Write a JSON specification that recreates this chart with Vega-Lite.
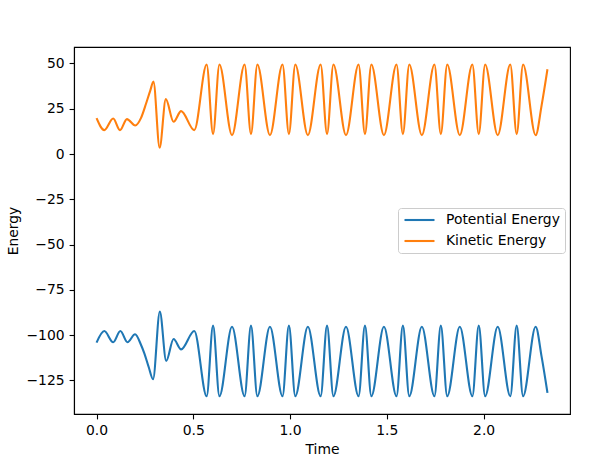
{
  "$schema": "https://vega.github.io/schema/vega-lite/v6.json",
  "width": 496,
  "height": 367,
  "autosize": {"type": "none"},
  "padding": {"left": 74, "top": 47, "right": 34, "bottom": 47},
  "background": "white",
  "config": {
    "font": "DejaVu Sans",
    "view": {"stroke": "black", "strokeWidth": 1.1},
    "axis": {
      "grid": false,
      "domainColor": "black",
      "domainWidth": 1.1,
      "tickColor": "black",
      "tickWidth": 1.1,
      "tickSize": 4.9,
      "labelFont": "DejaVu Sans",
      "labelFontSize": 13.9,
      "labelColor": "black",
      "labelPadding": 5,
      "titleFont": "DejaVu Sans",
      "titleFontSize": 13.9,
      "titleFontWeight": "normal",
      "titleColor": "black",
      "titlePadding": 5
    }
  },
  "data": {
    "values": [
      {"Time": 0.000, "Energy": -104.1, "Series": "Potential Energy"},
      {"Time": 0.040, "Energy": -97.7, "Series": "Potential Energy"},
      {"Time": 0.086, "Energy": -103.9, "Series": "Potential Energy"},
      {"Time": 0.123, "Energy": -97.7, "Series": "Potential Energy"},
      {"Time": 0.160, "Energy": -103.9, "Series": "Potential Energy"},
      {"Time": 0.199, "Energy": -99.5, "Series": "Potential Energy"},
      {"Time": 0.230, "Energy": -105.4, "Series": "Potential Energy"},
      {"Time": 0.247, "Energy": -110.0, "Series": "Potential Energy"},
      {"Time": 0.269, "Energy": -117.4, "Series": "Potential Energy"},
      {"Time": 0.292, "Energy": -124.3, "Series": "Potential Energy"},
      {"Time": 0.327, "Energy": -87.0, "Series": "Potential Energy"},
      {"Time": 0.360, "Energy": -114.2, "Series": "Potential Energy"},
      {"Time": 0.398, "Energy": -102.1, "Series": "Potential Energy"},
      {"Time": 0.437, "Energy": -107.8, "Series": "Potential Energy"},
      {"Time": 0.505, "Energy": -97.7, "Series": "Potential Energy"},
      {"Time": 0.569, "Energy": -133.7, "Series": "Potential Energy"},
      {"Time": 0.602, "Energy": -94.7, "Series": "Potential Energy"},
      {"Time": 0.635, "Energy": -133.7, "Series": "Potential Energy"},
      {"Time": 0.700, "Energy": -95.3, "Series": "Potential Energy"},
      {"Time": 0.765, "Energy": -133.7, "Series": "Potential Energy"},
      {"Time": 0.798, "Energy": -94.7, "Series": "Potential Energy"},
      {"Time": 0.831, "Energy": -133.7, "Series": "Potential Energy"},
      {"Time": 0.896, "Energy": -95.3, "Series": "Potential Energy"},
      {"Time": 0.961, "Energy": -133.7, "Series": "Potential Energy"},
      {"Time": 0.994, "Energy": -94.7, "Series": "Potential Energy"},
      {"Time": 1.027, "Energy": -133.7, "Series": "Potential Energy"},
      {"Time": 1.092, "Energy": -95.3, "Series": "Potential Energy"},
      {"Time": 1.158, "Energy": -133.7, "Series": "Potential Energy"},
      {"Time": 1.191, "Energy": -94.7, "Series": "Potential Energy"},
      {"Time": 1.224, "Energy": -133.7, "Series": "Potential Energy"},
      {"Time": 1.289, "Energy": -95.3, "Series": "Potential Energy"},
      {"Time": 1.354, "Energy": -133.7, "Series": "Potential Energy"},
      {"Time": 1.387, "Energy": -94.7, "Series": "Potential Energy"},
      {"Time": 1.420, "Energy": -133.7, "Series": "Potential Energy"},
      {"Time": 1.485, "Energy": -95.3, "Series": "Potential Energy"},
      {"Time": 1.550, "Energy": -133.7, "Series": "Potential Energy"},
      {"Time": 1.583, "Energy": -94.7, "Series": "Potential Energy"},
      {"Time": 1.616, "Energy": -133.7, "Series": "Potential Energy"},
      {"Time": 1.681, "Energy": -95.3, "Series": "Potential Energy"},
      {"Time": 1.746, "Energy": -133.7, "Series": "Potential Energy"},
      {"Time": 1.779, "Energy": -94.7, "Series": "Potential Energy"},
      {"Time": 1.812, "Energy": -133.7, "Series": "Potential Energy"},
      {"Time": 1.877, "Energy": -95.3, "Series": "Potential Energy"},
      {"Time": 1.942, "Energy": -133.7, "Series": "Potential Energy"},
      {"Time": 1.975, "Energy": -94.7, "Series": "Potential Energy"},
      {"Time": 2.008, "Energy": -133.7, "Series": "Potential Energy"},
      {"Time": 2.073, "Energy": -95.3, "Series": "Potential Energy"},
      {"Time": 2.138, "Energy": -133.7, "Series": "Potential Energy"},
      {"Time": 2.171, "Energy": -94.7, "Series": "Potential Energy"},
      {"Time": 2.204, "Energy": -133.7, "Series": "Potential Energy"},
      {"Time": 2.269, "Energy": -95.3, "Series": "Potential Energy"},
      {"Time": 2.300, "Energy": -112.0, "Series": "Potential Energy"},
      {"Time": 2.330, "Energy": -131.8, "Series": "Potential Energy"},
      {"Time": 0.000, "Energy": 19.8, "Series": "Kinetic Energy"},
      {"Time": 0.040, "Energy": 13.2, "Series": "Kinetic Energy"},
      {"Time": 0.086, "Energy": 19.6, "Series": "Kinetic Energy"},
      {"Time": 0.121, "Energy": 13.2, "Series": "Kinetic Energy"},
      {"Time": 0.157, "Energy": 19.3, "Series": "Kinetic Energy"},
      {"Time": 0.200, "Energy": 15.8, "Series": "Kinetic Energy"},
      {"Time": 0.230, "Energy": 20.0, "Series": "Kinetic Energy"},
      {"Time": 0.256, "Energy": 27.9, "Series": "Kinetic Energy"},
      {"Time": 0.278, "Energy": 35.2, "Series": "Kinetic Energy"},
      {"Time": 0.294, "Energy": 40.0, "Series": "Kinetic Energy"},
      {"Time": 0.326, "Energy": 3.5, "Series": "Kinetic Energy"},
      {"Time": 0.358, "Energy": 30.3, "Series": "Kinetic Energy"},
      {"Time": 0.398, "Energy": 17.8, "Series": "Kinetic Energy"},
      {"Time": 0.437, "Energy": 23.7, "Series": "Kinetic Energy"},
      {"Time": 0.505, "Energy": 13.2, "Series": "Kinetic Energy"},
      {"Time": 0.569, "Energy": 49.4, "Series": "Kinetic Energy"},
      {"Time": 0.602, "Energy": 11.0, "Series": "Kinetic Energy"},
      {"Time": 0.635, "Energy": 49.4, "Series": "Kinetic Energy"},
      {"Time": 0.700, "Energy": 10.4, "Series": "Kinetic Energy"},
      {"Time": 0.765, "Energy": 49.4, "Series": "Kinetic Energy"},
      {"Time": 0.798, "Energy": 11.0, "Series": "Kinetic Energy"},
      {"Time": 0.831, "Energy": 49.4, "Series": "Kinetic Energy"},
      {"Time": 0.896, "Energy": 10.4, "Series": "Kinetic Energy"},
      {"Time": 0.961, "Energy": 49.4, "Series": "Kinetic Energy"},
      {"Time": 0.994, "Energy": 11.0, "Series": "Kinetic Energy"},
      {"Time": 1.027, "Energy": 49.4, "Series": "Kinetic Energy"},
      {"Time": 1.092, "Energy": 10.4, "Series": "Kinetic Energy"},
      {"Time": 1.158, "Energy": 49.4, "Series": "Kinetic Energy"},
      {"Time": 1.191, "Energy": 11.0, "Series": "Kinetic Energy"},
      {"Time": 1.224, "Energy": 49.4, "Series": "Kinetic Energy"},
      {"Time": 1.289, "Energy": 10.4, "Series": "Kinetic Energy"},
      {"Time": 1.354, "Energy": 49.4, "Series": "Kinetic Energy"},
      {"Time": 1.387, "Energy": 11.0, "Series": "Kinetic Energy"},
      {"Time": 1.420, "Energy": 49.4, "Series": "Kinetic Energy"},
      {"Time": 1.485, "Energy": 10.4, "Series": "Kinetic Energy"},
      {"Time": 1.550, "Energy": 49.4, "Series": "Kinetic Energy"},
      {"Time": 1.583, "Energy": 11.0, "Series": "Kinetic Energy"},
      {"Time": 1.616, "Energy": 49.4, "Series": "Kinetic Energy"},
      {"Time": 1.681, "Energy": 10.4, "Series": "Kinetic Energy"},
      {"Time": 1.746, "Energy": 49.4, "Series": "Kinetic Energy"},
      {"Time": 1.779, "Energy": 11.0, "Series": "Kinetic Energy"},
      {"Time": 1.812, "Energy": 49.4, "Series": "Kinetic Energy"},
      {"Time": 1.877, "Energy": 10.4, "Series": "Kinetic Energy"},
      {"Time": 1.942, "Energy": 49.4, "Series": "Kinetic Energy"},
      {"Time": 1.975, "Energy": 11.0, "Series": "Kinetic Energy"},
      {"Time": 2.008, "Energy": 49.4, "Series": "Kinetic Energy"},
      {"Time": 2.073, "Energy": 10.4, "Series": "Kinetic Energy"},
      {"Time": 2.138, "Energy": 49.4, "Series": "Kinetic Energy"},
      {"Time": 2.171, "Energy": 11.0, "Series": "Kinetic Energy"},
      {"Time": 2.204, "Energy": 49.4, "Series": "Kinetic Energy"},
      {"Time": 2.269, "Energy": 10.4, "Series": "Kinetic Energy"},
      {"Time": 2.300, "Energy": 27.0, "Series": "Kinetic Energy"},
      {"Time": 2.330, "Energy": 46.8, "Series": "Kinetic Energy"}
    ]
  },
  "mark": {"type": "line", "interpolate": "monotone", "strokeWidth": 2.1},
  "encoding": {
    "x": {
      "field": "Time",
      "type": "quantitative",
      "title": "Time",
      "scale": {"domain": [-0.1165, 2.4465], "nice": false, "zero": false},
      "axis": {"values": [0, 0.5, 1, 1.5, 2], "format": ".1f"}
    },
    "y": {
      "field": "Energy",
      "type": "quantitative",
      "title": "Energy",
      "scale": {"domain": [-143.5, 59.1], "nice": false, "zero": false},
      "axis": {"values": [-125, -100, -75, -50, -25, 0, 25, 50], "format": "d"}
    },
    "color": {
      "field": "Series",
      "type": "nominal",
      "scale": {
        "domain": ["Potential Energy", "Kinetic Energy"],
        "range": ["#1f77b4", "#ff7f0e"]
      },
      "legend": {
        "title": null,
        "orient": "none",
        "legendX": 324,
        "legendY": 161,
        "symbolType": "stroke",
        "symbolSize": 900,
        "symbolStrokeWidth": 2.1,
        "clipHeight": 14,
        "labelFontSize": 13.9,
        "labelColor": "black",
        "labelOffset": 10,
        "padding": 5,
        "rowPadding": 7,
        "strokeColor": "#cccccc",
        "cornerRadius": 3,
        "fillColor": "white"
      }
    }
  }
}
